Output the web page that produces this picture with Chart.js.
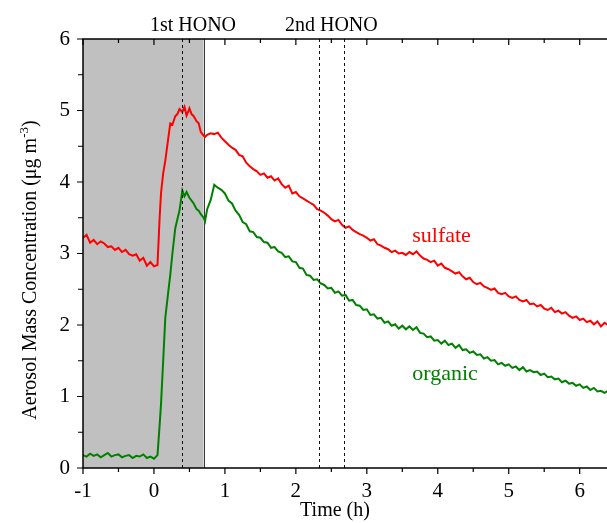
<!DOCTYPE html>
<html>
<head>
<meta charset="utf-8">
<script src="https://cdn.jsdelivr.net/npm/chart.js@4.4.1/dist/chart.umd.min.js"></script>
<style>
  html, body { margin: 0; padding: 0; background: #fff; }
</style>
</head>
<body>
<canvas id="chart" width="607" height="523"></canvas>
<script>
// time since first HONO injection (h)
const timeH = [
  -1.00, -0.95, -0.90, -0.85, -0.80, -0.75, -0.70, -0.65, -0.60, -0.55, -0.50,
  -0.45, -0.40, -0.35, -0.30, -0.25, -0.20, -0.15, -0.10, -0.05, 0.00,
  0.05, 0.08, 0.10, 0.13, 0.16, 0.20, 0.23, 0.26, 0.30, 0.33, 0.36, 0.40, 0.43,
  0.46, 0.50, 0.53, 0.56, 0.60, 0.63, 0.66, 0.70, 0.72, 0.75, 0.80, 0.85, 0.90, 0.95,
  1.00, 1.05, 1.10, 1.15, 1.20, 1.25, 1.30, 1.35, 1.40, 1.45,
  1.50, 1.55, 1.60, 1.65, 1.70, 1.75, 1.80, 1.85, 1.90, 1.95,
  2.00, 2.05, 2.10, 2.15, 2.20, 2.25, 2.30, 2.35, 2.40, 2.45,
  2.50, 2.55, 2.60, 2.65, 2.70, 2.75, 2.80, 2.85, 2.90, 2.95,
  3.00, 3.05, 3.10, 3.15, 3.20, 3.25, 3.30, 3.35, 3.40, 3.45,
  3.50, 3.55, 3.60, 3.65, 3.70, 3.75, 3.80, 3.85, 3.90, 3.95,
  4.00, 4.05, 4.10, 4.15, 4.20, 4.25, 4.30, 4.35, 4.40, 4.45,
  4.50, 4.55, 4.60, 4.65, 4.70, 4.75, 4.80, 4.85, 4.90, 4.95,
  5.00, 5.05, 5.10, 5.15, 5.20, 5.25, 5.30, 5.35, 5.40, 5.45,
  5.50, 5.55, 5.60, 5.65, 5.70, 5.75, 5.80, 5.85, 5.90, 5.95,
  6.00, 6.05, 6.10, 6.15, 6.20, 6.25, 6.30, 6.35, 6.40
];

// aerosol mass concentration (ug m-3)
const sulfate = [
  3.22, 3.26, 3.15, 3.19, 3.13, 3.17, 3.14, 3.09, 3.10, 3.05, 3.08,
  3.02, 3.05, 2.99, 2.97, 2.99, 2.90, 2.94, 2.83, 2.88, 2.82,
  2.84, 3.50, 3.85, 4.12, 4.30, 4.60, 4.82, 4.80, 4.92, 4.95, 5.02, 4.98, 5.05,
  4.93, 5.03, 4.95, 4.92, 4.85, 4.82, 4.70, 4.65, 4.63, 4.66, 4.68, 4.67, 4.69, 4.62,
  4.57, 4.52, 4.48, 4.45, 4.38, 4.36, 4.27, 4.22, 4.18, 4.15,
  4.10, 4.12, 4.06, 4.08, 4.02, 4.05, 3.97, 3.92, 3.95, 3.84,
  3.86, 3.80, 3.77, 3.74, 3.71, 3.68, 3.62, 3.60, 3.57, 3.53,
  3.48, 3.45, 3.47, 3.40, 3.36, 3.38, 3.33, 3.30, 3.27, 3.25,
  3.22, 3.18, 3.20, 3.13, 3.11, 3.08, 3.06, 3.02, 3.04, 3.00,
  3.01, 2.98, 3.02, 2.99, 3.03, 2.97, 2.93, 2.91, 2.88, 2.90,
  2.83, 2.86, 2.80, 2.78, 2.75, 2.72, 2.74, 2.68, 2.64, 2.66,
  2.60, 2.57, 2.59, 2.54, 2.52, 2.49, 2.51, 2.45, 2.43, 2.45,
  2.40, 2.38, 2.40, 2.35, 2.33, 2.35, 2.29, 2.30, 2.26, 2.28,
  2.23, 2.21, 2.24, 2.18, 2.20, 2.16, 2.18, 2.13, 2.10, 2.12,
  2.07, 2.09, 2.04, 2.06, 2.01, 2.05, 1.98, 2.03, 2.00
];

const organic = [
  0.18, 0.16, 0.20, 0.17, 0.19, 0.15, 0.18, 0.21, 0.16, 0.18, 0.19,
  0.15, 0.17, 0.18, 0.14, 0.17, 0.16, 0.19, 0.14, 0.16, 0.13,
  0.18, 0.60, 0.90, 1.50, 2.10, 2.45, 2.70, 3.00, 3.35, 3.48, 3.60, 3.88, 3.80,
  3.86, 3.78, 3.74, 3.70, 3.62, 3.60, 3.55, 3.50, 3.45, 3.62, 3.75, 3.96, 3.92, 3.89,
  3.84, 3.74, 3.70, 3.60, 3.54, 3.44, 3.41, 3.31, 3.30, 3.23,
  3.22, 3.16, 3.15, 3.08, 3.09, 3.03, 3.01, 2.95, 2.96, 2.89,
  2.88, 2.80, 2.79, 2.70, 2.69, 2.63, 2.64, 2.58, 2.56, 2.51,
  2.52, 2.45, 2.47, 2.41, 2.42, 2.34, 2.35, 2.28, 2.27, 2.21,
  2.22, 2.14, 2.15, 2.09, 2.10, 2.03, 2.05, 1.99, 2.01, 1.95,
  1.99, 1.94, 1.98, 1.93, 1.97, 1.89, 1.88, 1.83, 1.84, 1.78,
  1.79, 1.74, 1.78, 1.72, 1.74, 1.68, 1.72, 1.65, 1.66, 1.61,
  1.63, 1.58, 1.59, 1.53, 1.55, 1.50, 1.51, 1.45, 1.47, 1.43,
  1.45, 1.40, 1.42, 1.37, 1.41, 1.35, 1.37, 1.34, 1.35, 1.30,
  1.32, 1.27, 1.28, 1.24, 1.25, 1.20, 1.22, 1.18, 1.19, 1.15,
  1.17, 1.12, 1.14, 1.09, 1.12, 1.07, 1.08, 1.05, 1.08
];

const xTicks = [-1, 0, 1, 2, 3, 4, 5, 6];
const xMinor = [-0.5, 0.5, 1.5, 2.5, 3.5, 4.5, 5.5];
const yTicks = [0, 1, 2, 3, 4, 5, 6];
const yMinor = [0.5, 1.5, 2.5, 3.5, 4.5, 5.5];

const darkPeriod = [-1, 0.7];          // shaded, lights off
const honoTimes = [0.4, 2.32, 2.68];   // injections
const honoLabels = ['1st HONO', '2nd HONO'];
const honoLabelAt = [0.55, 2.5];

const SERIF = '"Liberation Serif", "Times New Roman", serif';
const RED = '#ff0000';
const GREEN = '#008000';

const decor = {
  id: 'decor',
  beforeDatasetsDraw(chart) {
    const { ctx, chartArea: a, scales: { x } } = chart;
    ctx.save();
    const x0 = x.getPixelForValue(darkPeriod[0]);
    const x1 = x.getPixelForValue(darkPeriod[1]);
    ctx.fillStyle = '#c0c0c0';
    ctx.fillRect(x0, a.top, x1 - x0, a.bottom - a.top);
    ctx.strokeStyle = '#3a3a3a';
    ctx.lineWidth = 1;
    ctx.beginPath();
    ctx.moveTo(Math.round(x1) + 0.5, a.top);
    ctx.lineTo(Math.round(x1) + 0.5, a.bottom);
    ctx.stroke();
    ctx.restore();
  },
  afterDatasetsDraw(chart) {
    const { ctx, chartArea: a, scales: { x, y } } = chart;
    ctx.save();
    // HONO injection markers
    ctx.strokeStyle = '#111';
    ctx.lineWidth = 1;
    ctx.setLineDash([3, 3]);
    honoTimes.forEach(t => {
      const px = Math.round(x.getPixelForValue(t)) + 0.5;
      ctx.beginPath();
      ctx.moveTo(px, a.top);
      ctx.lineTo(px, a.bottom);
      ctx.stroke();
    });
    ctx.setLineDash([]);

    // frame
    ctx.strokeStyle = '#000';
    ctx.lineWidth = 1.5;
    ctx.beginPath();
    ctx.moveTo(a.right, a.top);
    ctx.lineTo(a.left, a.top);
    ctx.lineTo(a.left, a.bottom);
    ctx.lineTo(a.right, a.bottom);
    ctx.stroke();

    // ticks
    ctx.lineWidth = 1.2;
    ctx.beginPath();
    const xt = (v, len) => {
      const px = x.getPixelForValue(v);
      ctx.moveTo(px, a.bottom); ctx.lineTo(px, a.bottom + len);
      ctx.moveTo(px, a.top); ctx.lineTo(px, a.top + len);
    };
    xTicks.forEach(v => xt(v, 6));
    xMinor.forEach(v => xt(v, 4));
    const yt = (v, len) => {
      const py = y.getPixelForValue(v);
      ctx.moveTo(a.left, py); ctx.lineTo(a.left - len, py);
    };
    yTicks.forEach(v => yt(v, 6));
    yMinor.forEach(v => yt(v, 5));
    ctx.stroke();

    // injection labels
    ctx.fillStyle = '#000';
    ctx.font = '20px ' + SERIF;
    ctx.textAlign = 'center';
    ctx.textBaseline = 'alphabetic';
    honoLabels.forEach((s, i) => ctx.fillText(s, x.getPixelForValue(honoLabelAt[i]), 31));

    // series labels
    ctx.font = '22px ' + SERIF;
    ctx.textAlign = 'left';
    ctx.fillStyle = RED;
    ctx.fillText('sulfate', x.getPixelForValue(3.64), y.getPixelForValue(3.16));
    ctx.fillStyle = GREEN;
    ctx.fillText('organic', x.getPixelForValue(3.64), y.getPixelForValue(1.23));

    // axis titles
    ctx.fillStyle = '#000';
    ctx.font = '20px ' + SERIF;
    ctx.textAlign = 'center';
    ctx.fillText('Time (h)', 335, 516);

    const main = 'Aerosol Mass Concentration (\u03bcg m';
    const sup = '-3';
    const close = ')';
    ctx.translate(36, 270);
    ctx.rotate(-Math.PI / 2);
    ctx.textAlign = 'left';
    const wMain = ctx.measureText(main).width;
    const wClose = ctx.measureText(close).width;
    ctx.font = '13px ' + SERIF;
    const wSup = ctx.measureText(sup).width;
    const start = -(wMain + wSup + wClose) / 2;
    ctx.font = '20px ' + SERIF;
    ctx.fillText(main, start, 0);
    ctx.fillText(close, start + wMain + wSup, 0);
    ctx.font = '13px ' + SERIF;
    ctx.fillText(sup, start + wMain, -8);
    ctx.restore();
  }
};

const tickFont = { family: SERIF, size: 21 };

new Chart(document.getElementById('chart'), {
  type: 'line',
  data: {
    datasets: [
      {
        label: 'sulfate',
        data: timeH.map((t, i) => ({ x: t, y: sulfate[i] })),
        borderColor: RED,
        borderWidth: 2,
        pointRadius: 0,
        tension: 0
      },
      {
        label: 'organic',
        data: timeH.map((t, i) => ({ x: t, y: organic[i] })),
        borderColor: GREEN,
        borderWidth: 2,
        pointRadius: 0,
        tension: 0
      }
    ]
  },
  options: {
    responsive: false,
    animation: false,
    layout: { padding: { top: 39, right: 0, bottom: 0, left: 0 } },
    plugins: { legend: { display: false }, tooltip: { enabled: false } },
    scales: {
      x: {
        type: 'linear',
        min: -1,
        max: 6.385,
        afterBuildTicks: s => { s.ticks = xTicks.map(v => ({ value: v })); },
        afterFit: s => { s.height = 55; },
        grid: { display: false, drawTicks: false },
        border: { display: false },
        ticks: { font: tickFont, color: '#000', padding: 11, maxRotation: 0 }
      },
      y: {
        min: 0,
        max: 6,
        afterBuildTicks: s => { s.ticks = yTicks.map(v => ({ value: v })); },
        afterFit: s => { s.width = 83; },
        grid: { display: false, drawTicks: false },
        border: { display: false },
        ticks: { font: tickFont, color: '#000', padding: 13 }
      }
    }
  },
  plugins: [decor]
});
</script>
</body>
</html>
